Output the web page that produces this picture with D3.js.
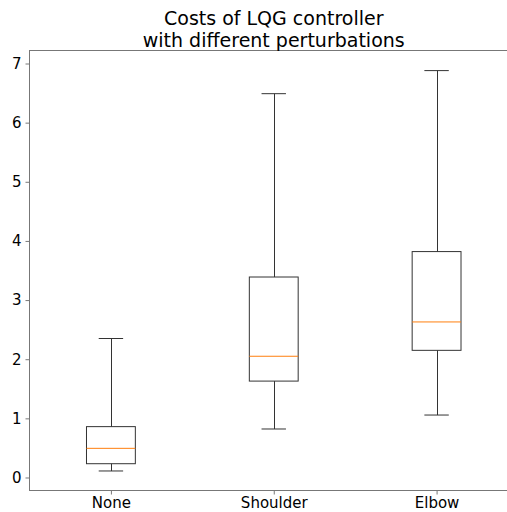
<!DOCTYPE html>
<html>
<head>
<meta charset="utf-8">
<script src="https://cdn.jsdelivr.net/npm/d3@7"></script>
<style>
  html, body { margin: 0; padding: 0; background: #fff; }
  svg { display: block; font-family: "DejaVu Sans", sans-serif; }
</style>
</head>
<body>
<svg id="chart" width="507" height="512"></svg>
<script>
// Box statistics per perturbation condition
const categories = ["None", "Shoulder", "Elbow"];
const whiskerLow  = [0.11, 0.82, 1.056];
const q1          = [0.233, 1.63, 2.15];
const median      = [0.493, 2.05, 2.63];
const q3          = [0.86, 3.39, 3.82];
const whiskerHigh = [2.35, 6.49, 6.88];
const yTicks = [0, 1, 2, 3, 4, 5, 6, 7];
const titleLines = ["Costs of LQG controller", "with different perturbations"];

(function draw() {
  const boxes = categories.map((c, i) => ({
    name: c, pos: i + 1,
    lo: whiskerLow[i], q1: q1[i], med: median[i], q3: q3[i], hi: whiskerHigh[i]
  }));

  const svg = d3.select("#chart");
  const plotLeft = 29.5, plotRight = 518, plotTop = 50.5, plotBottom = 490.5;

  const x = d3.scaleLinear().domain([0.5, 3.5]).range([plotLeft, plotRight]);
  const y = d3.scaleLinear().domain([-0.22, 7.22]).range([plotBottom, plotTop]);

  const boxW = 0.3, capW = 0.15;
  const lineColor = "#333";

  // Boxes, whiskers, caps and medians
  const g = svg.append("g");
  boxes.forEach(b => {
    const cx = Math.round(x(b.pos)) + 0.5;
    const bx0 = x(b.pos - boxW / 2), bx1 = x(b.pos + boxW / 2);
    const cx0 = x(b.pos - capW / 2), cx1 = x(b.pos + capW / 2);
    g.append("rect")
      .attr("x", bx0).attr("y", y(b.q3))
      .attr("width", bx1 - bx0).attr("height", y(b.q1) - y(b.q3))
      .attr("fill", "none").attr("stroke", lineColor).attr("stroke-width", 1);
    g.append("line").attr("x1", cx).attr("x2", cx)
      .attr("y1", y(b.q1)).attr("y2", y(b.lo))
      .attr("stroke", lineColor).attr("stroke-width", 1);
    g.append("line").attr("x1", cx).attr("x2", cx)
      .attr("y1", y(b.q3)).attr("y2", y(b.hi))
      .attr("stroke", lineColor).attr("stroke-width", 1);
    [b.lo, b.hi].forEach(v => {
      g.append("line").attr("x1", cx0).attr("x2", cx1)
        .attr("y1", y(v)).attr("y2", y(v))
        .attr("stroke", lineColor).attr("stroke-width", 1);
    });
    g.append("line").attr("x1", bx0).attr("x2", bx1)
      .attr("y1", y(b.med)).attr("y2", y(b.med))
      .attr("stroke", "#ff7f0e").attr("stroke-width", 1);
  });

  // Axes
  const yAxis = d3.axisLeft(y).tickValues(yTicks).tickFormat(d3.format("d"))
    .tickSizeInner(4).tickSizeOuter(0).tickPadding(4);
  const yg = svg.append("g").attr("transform", `translate(${plotLeft},0)`).call(yAxis);

  const xAxis = d3.axisBottom(x).tickValues(boxes.map(b => b.pos))
    .tickFormat((d, i) => categories[i])
    .tickSizeInner(4).tickSizeOuter(0).tickPadding(3);
  const xg = svg.append("g").attr("transform", `translate(0,${plotBottom})`).call(xAxis);

  [yg, xg].forEach(a => {
    a.select(".domain").remove();
    a.selectAll(".tick line").attr("stroke", "#555").attr("stroke-width", 0.8);
    a.selectAll(".tick text").attr("fill", "#000")
      .style("font-family", "DejaVu Sans").style("font-size", "15px");
  });

  // Frame (spines)
  svg.append("rect")
    .attr("x", plotLeft).attr("y", plotTop)
    .attr("width", plotRight - plotLeft).attr("height", plotBottom - plotTop)
    .attr("fill", "none").attr("stroke", "#777").attr("stroke-width", 1);

  // Title
  svg.append("text")
    .attr("text-anchor", "middle")
    .style("font-family", "DejaVu Sans").style("font-size", "19px")
    .attr("fill", "#000")
    .selectAll("tspan").data(titleLines).join("tspan")
    .attr("x", (plotLeft + plotRight) / 2)
    .attr("y", (d, i) => 24.5 + i * 22)
    .text(d => d);
})();
</script>
</body>
</html>
